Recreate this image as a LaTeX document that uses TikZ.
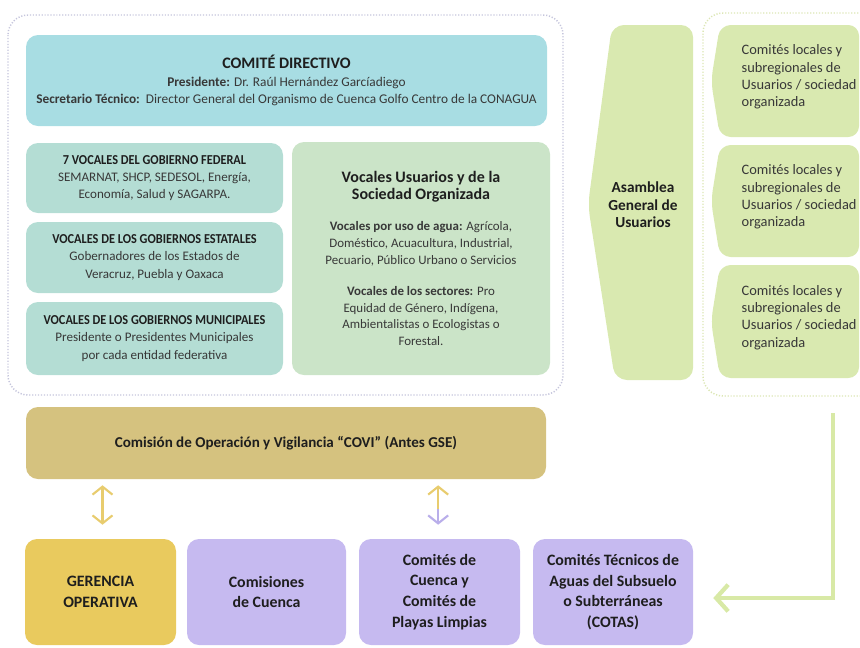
\documentclass[tikz,border=0pt]{standalone}
\usepackage{fontspec}
\setmainfont{Carlito}
\newfontfamily\condf[FakeStretch=0.9]{Carlito}
\usetikzlibrary{arrows.meta,calc}
\definecolor{cdir}{HTML}{A8DDE3}
\definecolor{cteal}{HTML}{B4DDD4}
\definecolor{cusu}{HTML}{CBE4C8}
\definecolor{clime}{HTML}{D9E9B0}
\definecolor{ccovi}{HTML}{D5C27F}
\definecolor{cger}{HTML}{E9CA5E}
\definecolor{clav}{HTML}{C6BAF0}
\definecolor{cgarrow}{HTML}{D8E9A6}
\definecolor{cgold}{HTML}{E8CC6E}
\definecolor{clavarrow}{HTML}{B9AEEA}
\definecolor{cdotl}{HTML}{C5C5DC}
\definecolor{cdotr}{HTML}{DCE6B4}
\definecolor{ctext}{HTML}{383838}
\definecolor{chead}{HTML}{1E1E1E}
\begin{document}
\begin{tikzpicture}[x=0.75pt,y=-0.75pt,
  panel/.style={rounded corners=9pt,inner sep=2pt,align=center,text=ctext},
  bodyf/.style={font=\fontsize{9.8}{13}\selectfont},
  dotbox/.style={line width=1.1pt,dash pattern=on 0.9pt off 1.3pt,rounded corners=15pt},
  dbl/.style={line width=1.6pt,cgold},
  barb/.tip={Straight Barb[length=6pt,width=15pt]}
]
\useasboundingbox (0,0) rectangle (860,647);

% dotted frames
\draw[dotbox,cdotl] (8,15) rectangle (563,395);
\draw[dotbox,cdotr] (870,13) -- (703,13) -- (703,396) -- (870,396);

% Comite directivo
\node[panel,fill=cdir,minimum width=390.75pt,minimum height=68.25pt,font=\fontsize{10}{13}\selectfont] (dir) at (286.5,80.5)
 {\textcolor{chead}{\fontsize{12}{15}\selectfont\bfseries COMITÉ DIRECTIVO}\\[0.5pt]
  \textbf{Presidente:} Dr. Raúl Hernández Garcíadiego\\
  \textbf{Secretario Técnico:}\ \ Director General del Organismo de Cuenca Golfo Centro de la CONAGUA};

% left column
\node[panel,fill=cteal,minimum width=192.75pt,minimum height=52.5pt,bodyf] (fed) at (154.5,178)
 {\textcolor{chead}{\fontsize{10.25}{13}\condf\bfseries 7 VOCALES DEL GOBIERNO FEDERAL}\\
  SEMARNAT, SHCP, SEDESOL, Energía,\\ Economía, Salud y SAGARPA.};
\node[panel,fill=cteal,minimum width=192.75pt,minimum height=53.25pt,bodyf] (est) at (154.5,257.5)
 {\textcolor{chead}{\fontsize{10.25}{13}\condf\bfseries VOCALES DE LOS GOBIERNOS ESTATALES}\\
  Gobernadores de los Estados de\\ Veracruz, Puebla y Oaxaca};
\node[panel,fill=cteal,minimum width=192.75pt,minimum height=54.75pt,bodyf] (mun) at (154.5,338.5)
 {\textcolor{chead}{\fontsize{10.25}{13}\condf\bfseries VOCALES DE LOS GOBIERNOS MUNICIPALES}\\
  Presidente o Presidentes Municipales\\ por cada entidad federativa};

% usuarios
\node[panel,fill=cusu,minimum width=193.5pt,minimum height=174.75pt,font=\fontsize{9.7}{12.5}\selectfont] (usu) at (421,258.5)
 {\textcolor{chead}{\fontsize{12}{13}\selectfont\bfseries Vocales Usuarios y de la}\\
  \textcolor{chead}{\fontsize{12}{13}\selectfont\bfseries Sociedad Organizada}\\[11pt]
  \textbf{Vocales por uso de agua:} Agrícola,\\ Doméstico, Acuacultura, Industrial,\\ Pecuario, Público Urbano o Servicios\\[11pt]
  \textbf{Vocales de los sectores:} Pro\\ Equidad de Género, Indígena,\\ Ambientalistas o Ecologistas o\\ Forestal.};

% Asamblea shape
\fill[clime,rounded corners=9pt] (612,25) -- (693,25) -- (693,380) -- (615,380) -- (588,205) -- cycle;
\node[align=center,font=\fontsize{11.5}{13}\selectfont\bfseries,text=chead] (asam) at (643,205)
 {Asamblea\\ General de\\ Usuarios};

% Comites locales
\foreach \n/\t/\b in {1/25/137,2/145/257,3/265/378}{
  \fill[clime,rounded corners=8pt] (720,\t) -- (859,\t) -- (859,\b) -- (720,\b) -- (711,{(\t+\b)/2}) -- cycle;
  \node[anchor=west,align=left,text=ctext,font=\fontsize{10.8}{13}\selectfont] (loc\n) at (737,{(\t+\b)/2-4})
   {Comités locales y\\ subregionales de\\ Usuarios / sociedad\\ organizada};
}

% COVI
\node[panel,fill=ccovi,minimum width=390pt,minimum height=54pt,font=\fontsize{11.3}{13}\selectfont\bfseries,text=chead] (covi) at (286,443)
 {Comisión de Operación y Vigilancia “COVI” (Antes GSE)};

% bottom row
\tikzset{bot/.style={panel,minimum height=79.5pt,font=\fontsize{11.9}{15.5}\selectfont\bfseries,text=chead}}
\node[bot,fill=cger,minimum width=113.25pt] (ger) at (100.5,592) {GERENCIA\\ OPERATIVA};
\node[bot,fill=clav,minimum width=119.25pt] (com) at (266.5,592) {Comisiones\\ de Cuenca};
\node[bot,fill=clav,minimum width=120.75pt] (cue) at (439.5,592) {Comités de\\ Cuenca y\\ Comités de\\ Playas Limpias};
\node[bot,fill=clav,minimum width=120pt] (cotas) at (613,592) {Comités Técnicos de\\ Aguas del Subsuelo\\ o Subterráneas\\ (COTAS)};

% double arrows
\draw[dbl,{barb}-{barb},shorten <=4.5pt,shorten >=10.5pt]
  ([xshift=1.5pt]ger.north |- covi.south) -- ([xshift=1.5pt]ger.north);
\coordinate (ra) at ([xshift=-1pt]cue.north |- covi.south);
\coordinate (rb) at ([xshift=-1pt]cue.north);
\coordinate (rm) at ($(ra)!0.5!(rb)$);
\draw[dbl,{barb}-,shorten <=4.5pt] (ra) -- (rm);
\draw[line width=1.6pt,clavarrow,-{barb},shorten >=10.5pt] (rm) -- (rb);

% green connector
\coordinate (gstart) at (833,413);
\draw[line width=3.2pt,cgarrow,-{Straight Barb[length=9pt,width=20pt]},shorten >=15pt]
  (gstart) |- ([yshift=-4.5pt]cotas.east);
\end{tikzpicture}
\end{document}
